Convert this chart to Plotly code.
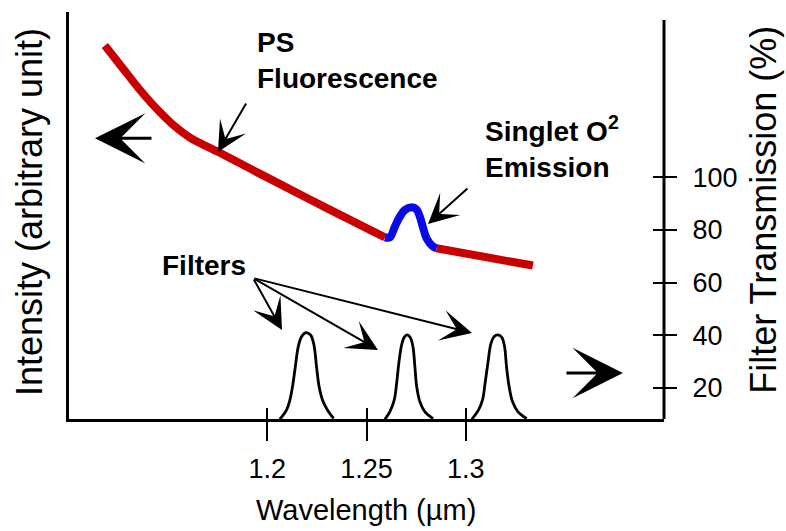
import plotly.graph_objects as go

# ---- data ----
# PS fluorescence (left axis, arbitrary units 0..1)
red1_x = [1.1181, 1.1274, 1.1358, 1.1442, 1.1526, 1.1610, 1.1753, 1.1878, 1.1996, 1.2332, 1.2593]
red1_y = [0.9177, 0.8600, 0.8084, 0.7622, 0.7224, 0.6916, 0.6560, 0.6241, 0.5943, 0.5101, 0.4464]
# singlet O2 emission bump
blue_x = [1.2593, 1.2618, 1.2643, 1.2668, 1.2693, 1.2727, 1.2752, 1.2769, 1.2786, 1.2803, 1.2836, 1.2853]
blue_y = [0.4464, 0.4464, 0.4726, 0.4971, 0.5135, 0.5201, 0.5152, 0.4971, 0.4685, 0.4440, 0.4234, 0.4194]
red2_x = [1.2853, 1.3000, 1.3150, 1.3339]
red2_y = [0.4194, 0.4060, 0.3940, 0.3770]

# filter transmission curves (right axis, %)
f1_x = [1.2063, 1.2097, 1.2114, 1.2127, 1.2139, 1.2156, 1.2173, 1.2194, 1.2218, 1.2235, 1.2248, 1.2261, 1.2278, 1.2303, 1.2334]
f1_y = [8.1, 11.65, 15.45, 20.5, 26.8, 35.7, 39.5, 41.0, 40.1, 36.3, 28.1, 20.5, 15.45, 11.65, 8.4]
f2_x = [1.2593, 1.2618, 1.2640, 1.2652, 1.2663, 1.2677, 1.2690, 1.2705, 1.2720, 1.2734, 1.2744, 1.2753, 1.2769, 1.2794, 1.2836]
f2_y = [8.1, 11.0, 15.45, 21.8, 29.4, 36.3, 39.2, 40.1, 39.2, 35.7, 28.1, 20.5, 14.8, 11.0, 8.35]
f3_x = [1.3031, 1.3065, 1.3085, 1.3098, 1.3112, 1.3128, 1.3144, 1.3162, 1.3182, 1.3196, 1.3206, 1.3219, 1.3236, 1.3263, 1.3308]
f3_y = [8.1, 11.65, 15.45, 21.8, 29.4, 37.0, 39.5, 40.1, 39.2, 35.7, 28.1, 20.5, 14.8, 11.0, 8.35]

x_ticks = [1.2, 1.25, 1.3]
x_tick_labels = ["1.2", "1.25", "1.3"]
y2_ticks = [20, 40, 60, 80, 100]
y2_tick_labels = ["20", "40", "60", "80", "100"]

FONT = "Liberation Sans, Arial, Helvetica, sans-serif"
RED = "#C80000"
BLUE = "#0A0AE6"

fig = go.Figure()
fig.add_trace(go.Scatter(x=red1_x, y=red1_y, mode="lines", line=dict(color=RED, width=8, shape="spline"), yaxis="y"))
fig.add_trace(go.Scatter(x=red2_x, y=red2_y, mode="lines", line=dict(color=RED, width=8), yaxis="y"))
fig.add_trace(go.Scatter(x=blue_x, y=blue_y, mode="lines", line=dict(color=BLUE, width=8, shape="spline"), yaxis="y"))
for fx, fy in [(f1_x, f1_y), (f2_x, f2_y), (f3_x, f3_y)]:
    fig.add_trace(go.Scatter(x=fx, y=fy, mode="lines", line=dict(color="black", width=2.8, shape="spline", smoothing=1.0), yaxis="y2"))
# empty trace to activate the overlay axes (crossing ticks)
fig.add_trace(go.Scatter(x=[], y=[], xaxis="x2", yaxis="y3"))

axis_common = dict(showgrid=False, zeroline=False)
fig.update_layout(
    width=786, height=531,
    margin=dict(l=69, r=122, t=12, b=112),
    paper_bgcolor="white", plot_bgcolor="white",
    showlegend=False,
    font=dict(family=FONT, color="black"),
    xaxis=dict(range=[1.1, 1.4], showline=True, linewidth=3, linecolor="black",
               tickvals=x_ticks, ticktext=x_tick_labels, ticks="outside", ticklen=19, tickwidth=2,
               tickcolor="black", tickfont=dict(size=27, family=FONT), ticklabelstandoff=5, **axis_common),
    xaxis2=dict(overlaying="x", matches="x", anchor="y", side="bottom", tickvals=x_ticks,
                ticks="inside", ticklen=11, tickwidth=2, tickcolor="black", showticklabels=False,
                showline=False, **axis_common),
    yaxis=dict(range=[0, 1], showline=True, linewidth=3, linecolor="black", ticks="",
               showticklabels=False, **axis_common),
    yaxis2=dict(overlaying="y", side="right", anchor="x", range=[8.2, 162.7],
                tickvals=y2_ticks, ticktext=y2_tick_labels, ticks="outside", ticklen=12, tickwidth=2,
                tickcolor="black", tickfont=dict(size=27, family=FONT), ticklabelstandoff=10,
                showline=False, **axis_common),
    yaxis3=dict(overlaying="y", side="right", anchor="x", matches="y2", tickvals=y2_ticks,
                ticks="inside", ticklen=11, tickwidth=2, tickcolor="black", showticklabels=False,
                showline=False, **axis_common),
)

# right axis line (shorter than the left one)
fig.add_shape(type="line", xref="paper", yref="y2", x0=1, x1=1, y0=8.2, y1=159.7,
              line=dict(color="black", width=3))

ann = []
# axis titles
ann.append(dict(text="Intensity (arbitrary unit)", xref="paper", yref="paper", x=-0.0655, y=0.5086,
                textangle=-90, showarrow=False, font=dict(size=36, family=FONT), xanchor="center", yanchor="middle"))
ann.append(dict(text="Filter Transmission (%)", xref="paper", yref="paper", x=1.166, y=0.5135,
                textangle=-90, showarrow=False, font=dict(size=36, family=FONT), xanchor="center", yanchor="middle"))
ann.append(dict(text="Wavelength (µm)", xref="paper", yref="paper", x=0.499, y=-0.2236,
                showarrow=False, font=dict(size=29, family=FONT), xanchor="center", yanchor="middle"))
# labels
ann.append(dict(text="<b>PS<br>Fluorescence</b>", xref="paper", yref="paper", x=0.3126, y=0.882,
                showarrow=False, align="left", xanchor="left", yanchor="middle", font=dict(size=28, family=FONT)))
ann.append(dict(text="<b>Singlet O<sup>2</sup><br>Emission</b>", xref="paper", yref="paper", x=0.6958, y=0.668,
                showarrow=False, align="left", xanchor="left", yanchor="middle", font=dict(size=28, family=FONT)))
ann.append(dict(text="<b>Filters</b>", xref="paper", yref="paper", x=0.153, y=0.376,
                showarrow=False, align="left", xanchor="left", yanchor="middle", font=dict(size=28, family=FONT)))

arrow = dict(text="", showarrow=True, arrowhead=3, arrowcolor="black")
# big direction arrows
ann.append(dict(arrow, xref="paper", yref="paper", x=0.0437, y=0.6896, ax=58, ay=0, arrowwidth=3, arrowsize=2.8))
ann.append(dict(arrow, xref="paper", yref="paper", x=0.931, y=0.113, ax=-58, ay=0, arrowwidth=3, arrowsize=2.8))
# pointer arrows
ann.append(dict(arrow, xref="x", yref="y", x=1.1751, y=0.6560, ax=29, ay=-50, arrowwidth=2, arrowsize=2.5))
ann.append(dict(arrow, xref="x", yref="y", x=1.281, y=0.479, ax=41, ay=-37, arrowwidth=2, arrowsize=2.5))
ann.append(dict(arrow, xref="paper", yref="paper", x=0.358, y=0.2187, ax=-29, ay=-52, arrowwidth=2, arrowsize=2.6))
ann.append(dict(arrow, xref="paper", yref="paper", x=0.5193, y=0.1695, ax=-125, ay=-72, arrowwidth=2, arrowsize=2.6))
ann.append(dict(arrow, xref="paper", yref="paper", x=0.6773, y=0.2113, ax=-219, ay=-55, arrowwidth=2, arrowsize=2.6))
fig.update_layout(annotations=ann)

fig.write_html("out.html")
